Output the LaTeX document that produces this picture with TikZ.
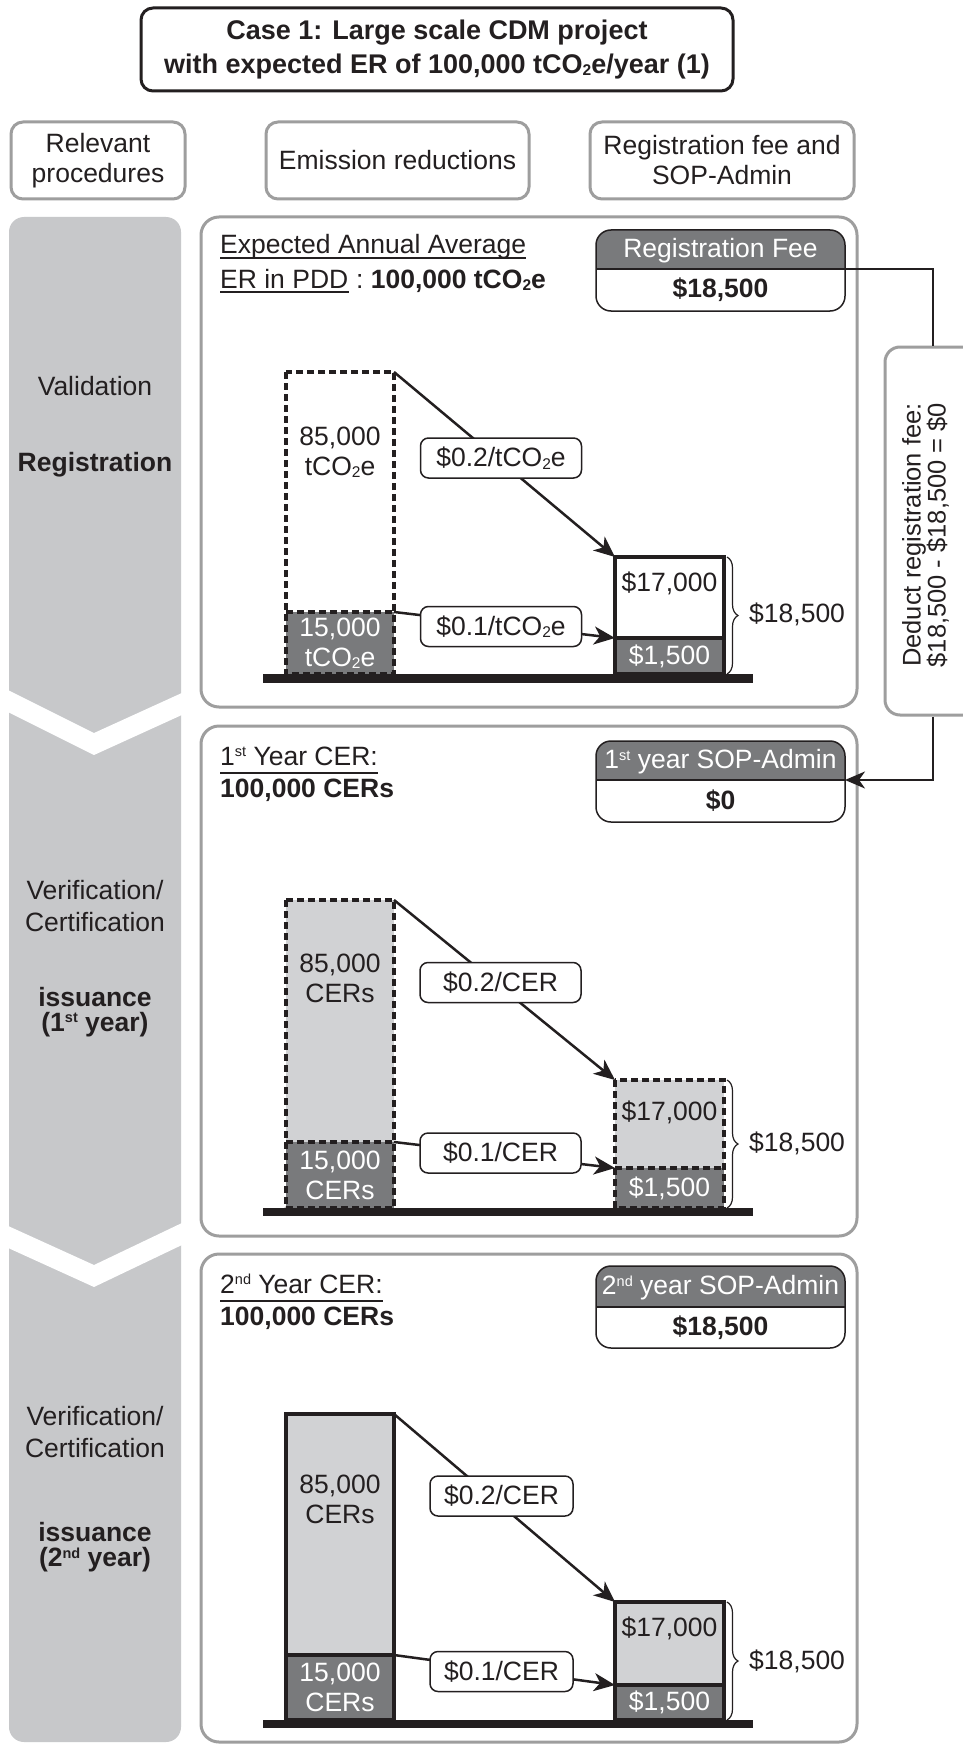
\documentclass[tikz,border=0pt]{standalone}
\usepackage{fontspec}
\setmainfont{Liberation Sans}
\usetikzlibrary{arrows.meta,decorations.pathreplacing}

\definecolor{ink}{HTML}{231F20}
\definecolor{colgray}{HTML}{C7C8CA}
\definecolor{hdrgray}{HTML}{797A7C}
\definecolor{lightbar}{HTML}{D1D2D4}
\definecolor{framegray}{HTML}{9E9E9E}

% small raised ordinals and lowered chemical indices
\newcommand\supt[1]{\raisebox{8.5pt}{\fontsize{14.5}{14.5}\selectfont #1}}
\newcommand\subt[1]{\raisebox{-2.5pt}{\fontsize{15.5}{15.5}\selectfont #1}}

\tikzset{
  txt/.style={inner sep=0pt, text=ink, font=\fontsize{26.5}{30}\selectfont},
  boldtxt/.style={inner sep=0pt, text=ink, font=\fontsize{26.5}{25}\selectfont\bfseries},
  panel/.style={draw=framegray, line width=3pt, rounded corners=18pt},
  headbox/.style={draw=framegray, line width=3pt, rounded corners=12pt, txt, align=center,
                  minimum height=77pt},
  rate/.style={draw=ink, fill=white, line width=1.5pt, rounded corners=8pt, txt,
               minimum height=40pt},
  barpart/.style={inner sep=0pt, outer sep=0pt, minimum width=108pt, anchor=south west,
                  txt, align=center},
  barline/.style={draw=ink, line width=4.5pt},
  dashedbar/.style={dash pattern=on 7pt off 4pt},
  flow/.style={draw=ink, line width=2.5pt, -{Stealth[length=21pt,width=18pt,inset=6pt]}},
  link/.style={draw=ink, line width=2.2pt},
  brace/.style={draw=ink, line width=1.2pt, decorate, decoration={brace, amplitude=11pt}},
  feeframe/.style={draw=ink, line width=1.5pt, rounded corners=15pt, inner sep=0pt,
                   minimum width=249pt},
  feehead/.style={inner sep=0pt, minimum width=249pt, text=white,
                  font=\fontsize{26.5}{30}\selectfont},
  feeval/.style={boldtxt},
}

\begin{document}
\begin{tikzpicture}[x=1pt,y=-1pt]
\fill[white] (0,0) rectangle (962,1744);
\useasboundingbox (0,0) rectangle (962,1744);

% ---------- title and column headers ----------
\node[draw=ink, line width=3pt, rounded corners=12pt, minimum width=592pt, minimum height=83pt,
      align=center, inner sep=0pt, text=ink, font=\fontsize{27}{34}\selectfont\bfseries]
  (title) at (437,49.5) {Case 1: Large scale CDM project\\with expected ER of 100,000 tCO\subt{2}e/year (1)};

\node[headbox, minimum width=174pt] (hproc) at (98,160.5) {Relevant\\procedures};
\node[headbox, minimum width=263pt] (hemis) at (397.5,160.5) {Emission reductions};
\node[headbox, minimum width=264pt] (hfee)  at (722,160.5) {Registration fee and\\SOP-Admin};

% ---------- procedure column with chevron breaks ----------
\fill[colgray, rounded corners=15pt] (9,217) rectangle (181,1742);
\fill[white] (6,689) -- (94,733) -- (184,692) -- (184,714) -- (94,755) -- (6,711) -- cycle;
\fill[white] (6,1225) -- (94,1265) -- (184,1222) -- (184,1244) -- (94,1287) -- (6,1247) -- cycle;

\node[txt] (pval) at (95,386) {Validation};
\node[boldtxt] (preg) at (95,465) {Registration};
\node[txt, align=center, font=\fontsize{26.5}{32}\selectfont] (pver1) at (95,906) {Verification/\\Certification};
\node[boldtxt, align=center] (piss1) at (95,1012) {issuance\\(1\supt{st} year)};
\node[txt, align=center, font=\fontsize{26.5}{32}\selectfont] (pver2) at (95,1432) {Verification/\\Certification};
\node[boldtxt, align=center] (piss2) at (95,1547.5) {issuance\\(2\supt{nd} year)};

% ---------- panels ----------
\draw[panel] (201,217) rectangle (857,707);
\draw[panel] (201,726) rectangle (857,1236);
\draw[panel] (201,1254) rectangle (857,1742);

% ---------- panel 1: registration ----------
\node[txt, anchor=base west] (expA) at (220,254) {Expected Annual Average};
\draw[ink, line width=1.3pt] ([yshift=-4pt]expA.base west) -- ([yshift=-4pt]expA.base east);
\node[txt, anchor=base west] (erpdd) at (220,288) {ER in PDD};
\draw[ink, line width=1.3pt] ([yshift=-4pt]erpdd.base west) -- ([yshift=-4pt]erpdd.base east);
\node[txt, anchor=base west] (erval) at (erpdd.base east) {\ :\ \textbf{100,000 tCO\subt{2}e}};

\begin{scope}
  \clip[rounded corners=15pt] (596,230) rectangle (845,311);
  \fill[hdrgray] (596,230) rectangle (845,269);
\end{scope}
\node[feeframe, minimum height=81pt] (regfee) at (720.5,270.5) {};
\node[feehead, minimum height=39pt] (reghead) at (720.5,251) {Registration Fee};
\node[feeval] (regval) at (720.5,290) {\$18,500};
\draw[ink, line width=1.5pt] (596,269) -- (845,269);

\node[barpart, fill=hdrgray, minimum height=62pt, text=white] (L1lo) at (286,674) {15,000\\tCO\subt{2}e};
\node[barpart, fill=white, minimum height=240pt] (L1up) at (286,612) {};
\node[txt, align=center] (L1txt) at (340,452) {85,000\\tCO\subt{2}e};
\node[barpart, fill=hdrgray, minimum height=36pt, minimum width=109pt, text=white] (R1lo) at (615,674) {\$1,500};
\node[barpart, fill=white, minimum height=81pt, minimum width=109pt] (R1up) at (615,638) {};
\node[txt] (R1txt) at (669.5,583) {\$17,000};
\draw[barline, dashedbar] (L1up.north west) rectangle (L1lo.south east);
\draw[barline, dashedbar] (L1lo.north west) -- (L1lo.north east);
\draw[barline] (R1up.north west) rectangle (R1lo.south east);
\draw[barline] (R1lo.north west) -- (R1lo.north east);
\fill[ink] (263,674) rectangle (753,683);
\draw[flow] (L1up.north east) -- (R1up.north west);
\draw[flow] (L1lo.north east) -- (R1lo.north west);
\node[rate, minimum width=161pt] (rate1a) at (501,458) {\$0.2/tCO\subt{2}e};
\node[rate, minimum width=161pt] (rate1b) at (501,626.5) {\$0.1/tCO\subt{2}e};
\draw[brace] ([xshift=3pt]R1up.north east) -- ([xshift=3pt]R1lo.south east);
\node[txt, anchor=west] (sum1) at (749,614) {\$18,500};

% ---------- panel 2: first verification ----------
\node[txt, anchor=base west] (cer1) at (220,765) {1\supt{st} Year CER:};
\draw[ink, line width=1.3pt] ([yshift=-8pt]cer1.base west) -- ([yshift=-8pt]cer1.base east);
\node[boldtxt, anchor=base west] (cer1v) at (220,797) {100,000 CERs};

\begin{scope}
  \clip[rounded corners=15pt] (596,741) rectangle (845,822);
  \fill[hdrgray] (596,741) rectangle (845,780);
\end{scope}
\node[feeframe, minimum height=81pt] (sop1) at (720.5,781.5) {};
\node[feehead, minimum height=39pt] (sop1head) at (720.5,762) {1\supt{st} year SOP-Admin};
\node[feeval] (sop1val) at (720.5,801) {\$0};
\draw[ink, line width=1.5pt] (596,780) -- (845,780);
\coordinate (sop1in) at (845,780);

\node[barpart, fill=hdrgray, minimum height=66pt, text=white] (L2lo) at (286,1208) {15,000\\CERs};
\node[barpart, fill=lightbar, minimum height=242pt] (L2up) at (286,1142) {};
\node[txt, align=center] (L2txt) at (340,978) {85,000\\CERs};
\node[barpart, fill=hdrgray, minimum height=40pt, minimum width=109pt, text=white] (R2lo) at (615,1208) {\$1,500};
\node[barpart, fill=lightbar, minimum height=88pt, minimum width=109pt] (R2up) at (615,1168) {};
\node[txt] (R2txt) at (669.5,1112) {\$17,000};
\draw[barline, dashedbar] (L2up.north west) rectangle (L2lo.south east);
\draw[barline, dashedbar] (L2lo.north west) -- (L2lo.north east);
\draw[barline, dashedbar] (R2up.north west) rectangle (R2lo.south east);
\draw[barline, dashedbar] (R2lo.north west) -- (R2lo.north east);
\fill[ink] (263,1208) rectangle (753,1216);
\draw[flow] (L2up.north east) -- (R2up.north west);
\draw[flow] (L2lo.north east) -- (R2lo.north west);
\node[rate, minimum width=161pt] (rate2a) at (500.5,982.5) {\$0.2/CER};
\node[rate, minimum width=161pt] (rate2b) at (500.5,1153) {\$0.1/CER};
\draw[brace] ([xshift=3pt]R2up.north east) -- ([xshift=3pt]R2lo.south east);
\node[txt, anchor=west] (sum2) at (749,1143) {\$18,500};

% ---------- panel 3: second verification ----------
\node[txt, anchor=base west] (cer2) at (220,1293) {2\supt{nd} Year CER:};
\draw[ink, line width=1.3pt] ([yshift=-8pt]cer2.base west) -- ([yshift=-8pt]cer2.base east);
\node[boldtxt, anchor=base west] (cer2v) at (220,1325) {100,000 CERs};

\begin{scope}
  \clip[rounded corners=15pt] (596,1266) rectangle (845,1348);
  \fill[hdrgray] (596,1266) rectangle (845,1307);
\end{scope}
\node[feeframe, minimum height=82pt] (sop2) at (720.5,1307) {};
\node[feehead, minimum height=41pt] (sop2head) at (720.5,1288) {2\supt{nd} year SOP-Admin};
\node[feeval] (sop2val) at (720.5,1327.5) {\$18,500};
\draw[ink, line width=1.5pt] (596,1307) -- (845,1307);

\node[barpart, fill=hdrgray, minimum height=65pt, text=white] (L3lo) at (286,1720) {15,000\\CERs};
\node[barpart, fill=lightbar, minimum height=241pt] (L3up) at (286,1655) {};
\node[txt, align=center] (L3txt) at (340,1499) {85,000\\CERs};
\node[barpart, fill=hdrgray, minimum height=35pt, minimum width=109pt, text=white] (R3lo) at (615,1720) {\$1,500};
\node[barpart, fill=lightbar, minimum height=83pt, minimum width=109pt] (R3up) at (615,1685) {};
\node[txt] (R3txt) at (669.5,1628) {\$17,000};
\draw[barline] (L3up.north west) rectangle (L3lo.south east);
\draw[barline] (L3lo.north west) -- (L3lo.north east);
\draw[barline] (R3up.north west) rectangle (R3lo.south east);
\draw[barline] (R3lo.north west) -- (R3lo.north east);
\fill[ink] (263,1720) rectangle (753,1728);
\draw[flow] (L3up.north east) -- (R3up.north west);
\draw[flow] (L3lo.north east) -- (R3lo.north west);
\node[rate, minimum width=143pt] (rate3a) at (501.5,1496) {\$0.2/CER};
\node[rate, minimum width=143pt] (rate3b) at (501.5,1671.5) {\$0.1/CER};
\draw[brace] ([xshift=3pt]R3up.north east) -- ([xshift=3pt]R3lo.south east);
\node[txt, anchor=west] (sum3) at (749,1661) {\$18,500};

% ---------- deduction of the registration fee ----------
\node[draw=framegray, fill=white, line width=3pt, rounded corners=15pt, inner sep=0pt,
      minimum width=96pt, minimum height=368pt] (deduct) at (933,531) {};
\node[rotate=90, align=center, inner sep=0pt, text=ink, font=\fontsize{25.5}{24}\selectfont]
  (deducttxt) at (925.5,535) {Deduct registration fee:\\\$18,500 - \$18,500 = \$0};
\coordinate (regout) at (845,269);
\draw[link] (regout) -| (deduct.north);
\draw[link, -{Stealth[length=20pt,width=17pt,inset=6pt]}] (deduct.south) |- (sop1in);
\end{tikzpicture}
\end{document}
